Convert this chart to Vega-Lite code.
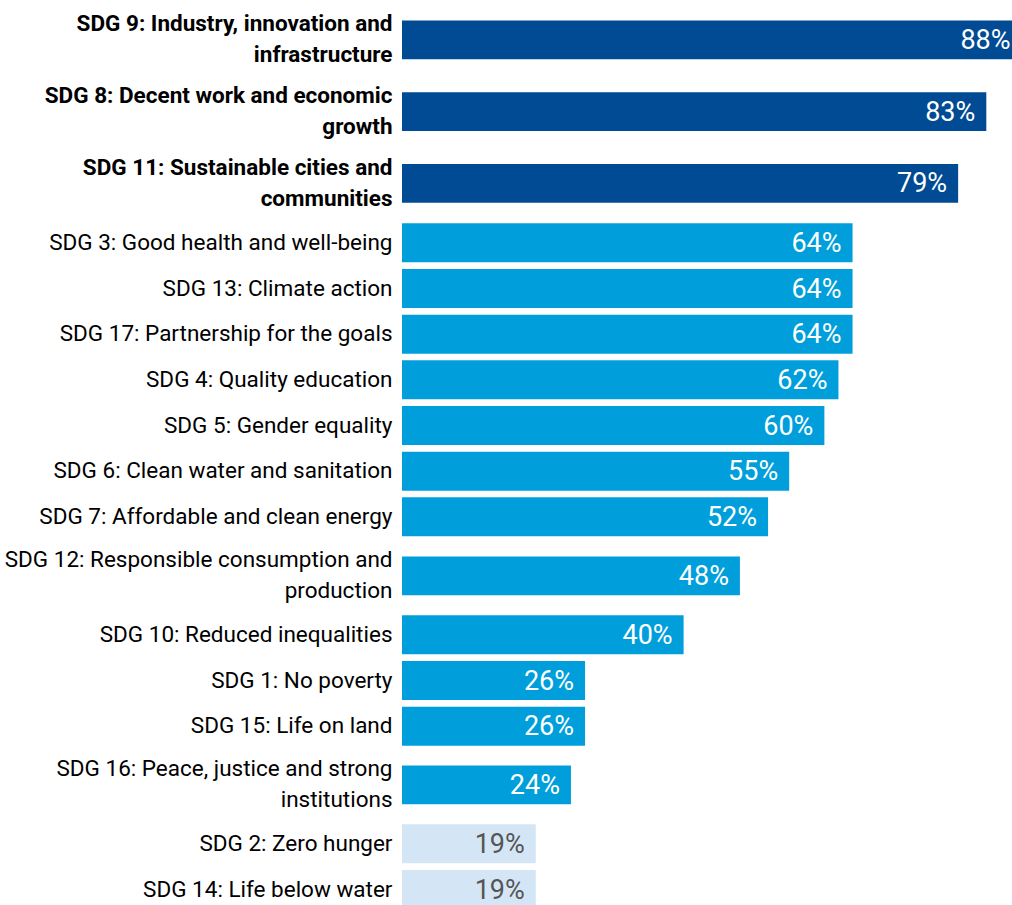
{
  "$schema": "https://vega.github.io/schema/vega-lite/v6.json",
  "padding": {"top": 4, "left": 0, "right": 0, "bottom": 0},
  "spacing": 0,
  "bounds": "flush",
  "data": {
    "values": [
      {"sdg": "SDG 9: Industry, innovation and infrastructure", "value": 0.88},
      {"sdg": "SDG 8: Decent work and economic growth", "value": 0.83},
      {"sdg": "SDG 11: Sustainable cities and communities", "value": 0.79},
      {"sdg": "SDG 3: Good health and well-being", "value": 0.64},
      {"sdg": "SDG 13: Climate action", "value": 0.64},
      {"sdg": "SDG 17: Partnership for the goals", "value": 0.64},
      {"sdg": "SDG 4: Quality education", "value": 0.62},
      {"sdg": "SDG 5: Gender equality", "value": 0.60},
      {"sdg": "SDG 6: Clean water and sanitation", "value": 0.55},
      {"sdg": "SDG 7: Affordable and clean energy", "value": 0.52},
      {"sdg": "SDG 12: Responsible consumption and production", "value": 0.48},
      {"sdg": "SDG 10: Reduced inequalities", "value": 0.40},
      {"sdg": "SDG 1: No poverty", "value": 0.26},
      {"sdg": "SDG 15: Life on land", "value": 0.26},
      {"sdg": "SDG 16: Peace, justice and strong institutions", "value": 0.24},
      {"sdg": "SDG 2: Zero hunger", "value": 0.19},
      {"sdg": "SDG 14: Life below water", "value": 0.19}
    ]
  },
  "vconcat": [
    {
      "width": 610, "height": 215.25,
      "transform": [{"filter": {"field": "sdg", "oneOf": ["SDG 9: Industry, innovation and infrastructure", "SDG 8: Decent work and economic growth", "SDG 11: Sustainable cities and communities"]}}],
      "encoding": {
        "y": {"field": "sdg", "type": "nominal", "sort": null, "scale": {"paddingInner": 0.4565, "paddingOuter": 0.2283}, "axis": {"labelFontWeight": "bold", "labelOffset": -15.5}},
        "x": {"field": "value", "type": "quantitative", "scale": {"domain": [0, 0.8665]}, "axis": null}
      },
      "layer": [
        {"mark": {"type": "bar", "clip": true}, "encoding": {"color": {"condition": [{"test": "datum.value >= 0.7", "value": "#004b93"}, {"test": "datum.value < 0.2", "value": "#d4e6f6"}], "value": "#009fdb"}}},
        {"mark": {"type": "text", "align": "right", "baseline": "middle", "dx": -11, "dy": 1, "fontSize": 27}, "encoding": {"text": {"field": "value", "type": "quantitative", "format": ".0%"}, "color": {"condition": {"test": "datum.value < 0.2", "value": "#555555"}, "value": "#ffffff"}}}
      ]
    },
    {
      "width": 610, "height": 319.7,
      "transform": [{"filter": {"field": "sdg", "oneOf": ["SDG 3: Good health and well-being", "SDG 13: Climate action", "SDG 17: Partnership for the goals", "SDG 4: Quality education", "SDG 5: Gender equality", "SDG 6: Clean water and sanitation", "SDG 7: Affordable and clean energy"]}}],
      "encoding": {
        "y": {"field": "sdg", "type": "nominal", "sort": null, "scale": {"paddingInner": 0.146, "paddingOuter": 0.073}},
        "x": {"field": "value", "type": "quantitative", "scale": {"domain": [0, 0.8665]}, "axis": null}
      },
      "layer": [
        {"mark": {"type": "bar", "clip": true}, "encoding": {"color": {"condition": [{"test": "datum.value >= 0.7", "value": "#004b93"}, {"test": "datum.value < 0.2", "value": "#d4e6f6"}], "value": "#009fdb"}}},
        {"mark": {"type": "text", "align": "right", "baseline": "middle", "dx": -11, "dy": 1, "fontSize": 27}, "encoding": {"text": {"field": "value", "type": "quantitative", "format": ".0%"}, "color": {"condition": {"test": "datum.value < 0.2", "value": "#555555"}, "value": "#ffffff"}}}
      ]
    },
    {
      "width": 610, "height": 71.75,
      "transform": [{"filter": {"field": "sdg", "oneOf": ["SDG 12: Responsible consumption and production"]}}],
      "encoding": {
        "y": {"field": "sdg", "type": "nominal", "sort": null, "scale": {"paddingInner": 0.4565, "paddingOuter": 0.2283}, "axis": {"labelOffset": -15.5}},
        "x": {"field": "value", "type": "quantitative", "scale": {"domain": [0, 0.8665]}, "axis": null}
      },
      "layer": [
        {"mark": {"type": "bar", "clip": true}, "encoding": {"color": {"condition": [{"test": "datum.value >= 0.7", "value": "#004b93"}, {"test": "datum.value < 0.2", "value": "#d4e6f6"}], "value": "#009fdb"}}},
        {"mark": {"type": "text", "align": "right", "baseline": "middle", "dx": -11, "dy": 1, "fontSize": 27}, "encoding": {"text": {"field": "value", "type": "quantitative", "format": ".0%"}, "color": {"condition": {"test": "datum.value < 0.2", "value": "#555555"}, "value": "#ffffff"}}}
      ]
    },
    {
      "width": 610, "height": 137,
      "transform": [{"filter": {"field": "sdg", "oneOf": ["SDG 10: Reduced inequalities", "SDG 1: No poverty", "SDG 15: Life on land"]}}],
      "encoding": {
        "y": {"field": "sdg", "type": "nominal", "sort": null, "scale": {"paddingInner": 0.146, "paddingOuter": 0.073}},
        "x": {"field": "value", "type": "quantitative", "scale": {"domain": [0, 0.8665]}, "axis": null}
      },
      "layer": [
        {"mark": {"type": "bar", "clip": true}, "encoding": {"color": {"condition": [{"test": "datum.value >= 0.7", "value": "#004b93"}, {"test": "datum.value < 0.2", "value": "#d4e6f6"}], "value": "#009fdb"}}},
        {"mark": {"type": "text", "align": "right", "baseline": "middle", "dx": -11, "dy": 1, "fontSize": 27}, "encoding": {"text": {"field": "value", "type": "quantitative", "format": ".0%"}, "color": {"condition": {"test": "datum.value < 0.2", "value": "#555555"}, "value": "#ffffff"}}}
      ]
    },
    {
      "width": 610, "height": 71.75,
      "transform": [{"filter": {"field": "sdg", "oneOf": ["SDG 16: Peace, justice and strong institutions"]}}],
      "encoding": {
        "y": {"field": "sdg", "type": "nominal", "sort": null, "scale": {"paddingInner": 0.4565, "paddingOuter": 0.2283}, "axis": {"labelOffset": -15.5}},
        "x": {"field": "value", "type": "quantitative", "scale": {"domain": [0, 0.8665]}, "axis": null}
      },
      "layer": [
        {"mark": {"type": "bar", "clip": true}, "encoding": {"color": {"condition": [{"test": "datum.value >= 0.7", "value": "#004b93"}, {"test": "datum.value < 0.2", "value": "#d4e6f6"}], "value": "#009fdb"}}},
        {"mark": {"type": "text", "align": "right", "baseline": "middle", "dx": -11, "dy": 1, "fontSize": 27}, "encoding": {"text": {"field": "value", "type": "quantitative", "format": ".0%"}, "color": {"condition": {"test": "datum.value < 0.2", "value": "#555555"}, "value": "#ffffff"}}}
      ]
    },
    {
      "width": 610, "height": 91.34,
      "transform": [{"filter": {"field": "sdg", "oneOf": ["SDG 2: Zero hunger", "SDG 14: Life below water"]}}],
      "encoding": {
        "y": {"field": "sdg", "type": "nominal", "sort": null, "scale": {"paddingInner": 0.146, "paddingOuter": 0.073}},
        "x": {"field": "value", "type": "quantitative", "scale": {"domain": [0, 0.8665]}, "axis": null}
      },
      "layer": [
        {"mark": {"type": "bar", "clip": true}, "encoding": {"color": {"condition": [{"test": "datum.value >= 0.7", "value": "#004b93"}, {"test": "datum.value < 0.2", "value": "#d4e6f6"}], "value": "#009fdb"}}},
        {"mark": {"type": "text", "align": "right", "baseline": "middle", "dx": -11, "dy": 1, "fontSize": 27}, "encoding": {"text": {"field": "value", "type": "quantitative", "format": ".0%"}, "color": {"condition": {"test": "datum.value < 0.2", "value": "#555555"}, "value": "#ffffff"}}}
      ]
    }
  ],
  "config": {
    "font": "Roboto, sans-serif",
    "view": {"stroke": null},
    "concat": {"spacing": 0},
    "text": {"font": "Roboto, sans-serif"},
    "axis": {
      "title": null,
      "domain": false,
      "ticks": false,
      "grid": false,
      "labelFont": "Roboto, sans-serif",
      "labelFontSize": 22.5,
      "labelColor": "#000000",
      "labelPadding": 10,
      "labelLimit": 600,
      "labelLineHeight": 31,
      "minExtent": 402,
      "maxExtent": 402,
      "labelExpr": "length(datum.label) > 36 ? [slice(datum.label, 0, lastindexof(datum.label, ' ')), slice(datum.label, lastindexof(datum.label, ' ') + 1)] : datum.label"
    }
  }
}
